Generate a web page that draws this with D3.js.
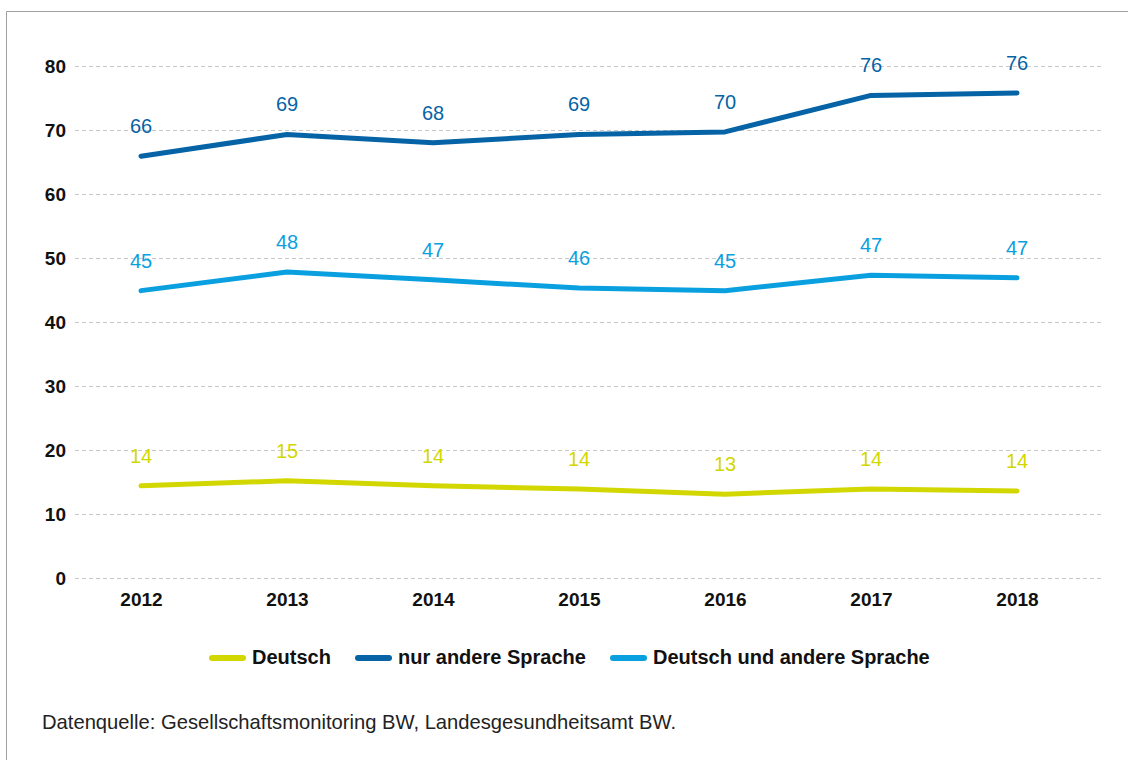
<!DOCTYPE html>
<html>
<head>
<meta charset="utf-8">
<script src="https://d3js.org/d3.v7.min.js"></script>
<style>
  body { margin: 0; background: #fff; }
  svg { display: block; font-family: "Liberation Sans", Arial, sans-serif; }
  .grid line { stroke: #c8c8c8; stroke-dasharray: 4 3; }
  .axis text { font-weight: bold; font-size: 19px; fill: #111; }
</style>
</head>
<body>
<script>
// Daten
var years = [2012, 2013, 2014, 2015, 2016, 2017, 2018];
var deutsch = [14.4, 15.2, 14.4, 13.9, 13.1, 13.9, 13.6];
var nurAndere = [65.9, 69.3, 68.0, 69.3, 69.7, 75.4, 75.8];
var deutschUndAndere = [44.9, 47.8, 46.6, 45.3, 44.9, 47.3, 46.9];
var labelsDeutsch = [14, 15, 14, 14, 13, 14, 14];
var labelsNurAndere = [66, 69, 68, 69, 70, 76, 76];
var labelsBeide = [45, 48, 47, 46, 45, 47, 47];
var yTicks = [0, 10, 20, 30, 40, 50, 60, 70, 80];

var width = 1128, height = 760;

var series = [
  { name: "Deutsch", values: deutsch, labels: labelsDeutsch, color: "#d2d700" },
  { name: "nur andere Sprache", values: nurAndere, labels: labelsNurAndere, color: "#0563a6" },
  { name: "Deutsch und andere Sprache", values: deutschUndAndere, labels: labelsBeide, color: "#0aa0e0" }
];

var svg = d3.select("body").append("svg")
  .attr("width", width)
  .attr("height", height);

// Rahmen
svg.append("path")
  .attr("d", "M6.5,760 V11.5 H1128")
  .attr("fill", "none")
  .attr("stroke", "#a0a0a0")
  .attr("stroke-width", 1);

var x = d3.scalePoint().domain(years).range([141, 1017]);
var y = d3.scaleLinear().domain([0, 80]).range([578, 66]);

// Gitter
svg.append("g").attr("class", "grid")
  .selectAll("line").data(yTicks).enter().append("line")
  .attr("x1", 75).attr("x2", 1102)
  .attr("y1", function (d) { return y(d) + 0.5; })
  .attr("y2", function (d) { return y(d) + 0.5; });

// Y-Achse
var yAxis = svg.append("g").attr("class", "axis")
  .attr("transform", "translate(66,0)")
  .call(d3.axisLeft(y).tickValues(yTicks).tickSize(0).tickPadding(0));
yAxis.select(".domain").remove();
yAxis.selectAll("text").attr("dy", "0.35em");

// X-Achse
var xAxis = svg.append("g").attr("class", "axis")
  .attr("transform", "translate(0,599)")
  .call(d3.axisBottom(x).tickSize(0).tickPadding(0));
xAxis.select(".domain").remove();
xAxis.selectAll("text").attr("dy", "0.35em").attr("y", 0);

var line = d3.line()
  .x(function (d, i) { return x(years[i]); })
  .y(function (d) { return y(d); });

series.forEach(function (s) {
  svg.append("path")
    .datum(s.values)
    .attr("d", line)
    .attr("fill", "none")
    .attr("stroke", s.color)
    .attr("stroke-width", 5)
    .attr("stroke-linecap", "round")
    .attr("stroke-linejoin", "round");

  svg.append("g").selectAll("text").data(s.values).enter().append("text")
    .attr("x", function (d, i) { return x(years[i]); })
    .attr("y", function (d) { return y(d) - 30; })
    .attr("dy", "0.35em")
    .attr("text-anchor", "middle")
    .attr("font-size", 20)
    .attr("fill", s.color)
    .text(function (d, i) { return s.labels[i]; });
});

// Legende
var legendX = [209, 355, 610];
var legend = svg.append("g").selectAll("g").data(series).enter().append("g")
  .attr("transform", function (d, i) { return "translate(" + legendX[i] + ",657)"; });
legend.append("line")
  .attr("x1", 3).attr("x2", 34)
  .attr("y1", 1).attr("y2", 1)
  .attr("stroke", function (d) { return d.color; })
  .attr("stroke-width", 6)
  .attr("stroke-linecap", "round");
legend.append("text")
  .attr("x", 43).attr("dy", "0.35em")
  .attr("font-size", 20).attr("font-weight", "bold").attr("fill", "#111")
  .text(function (d) { return d.name; });

// Quelle
svg.append("text")
  .attr("x", 42).attr("y", 729)
  .attr("font-size", 20.2).attr("fill", "#222")
  .text("Datenquelle: Gesellschaftsmonitoring BW, Landesgesundheitsamt BW.");
</script>
</body>
</html>
